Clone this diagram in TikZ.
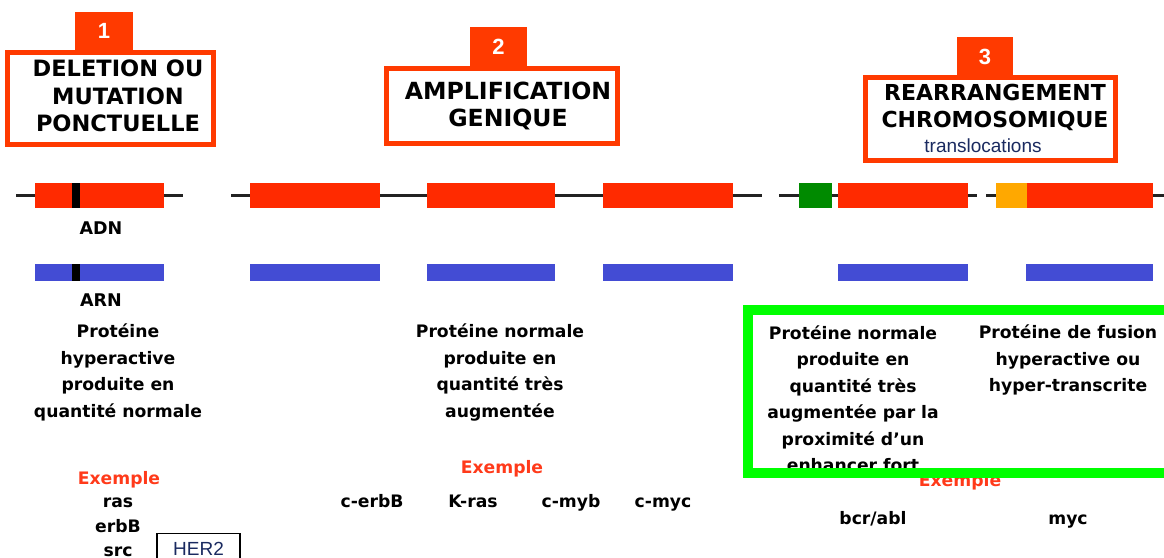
\documentclass[tikz,border=0pt]{standalone}
\usepackage{fontspec}
\setmainfont{DejaVu Sans}
\newfontfamily\arialf{Liberation Sans}
\definecolor{dnared}{HTML}{FF2A00}
\definecolor{rnablue}{HTML}{434CD4}
\definecolor{boxred}{HTML}{FF3A00}
\definecolor{promgreen}{HTML}{008A00}
\definecolor{promorange}{HTML}{FFA800}
\definecolor{hilite}{HTML}{00FF00}
\definecolor{navy}{HTML}{1A2A60}
\definecolor{exred}{HTML}{FF3A1A}
\definecolor{dnaline}{HTML}{222222}
\newcommand\mybody{\fontsize{17.2}{26.5}\selectfont\bfseries}
\begin{document}
\begin{tikzpicture}[x=1pt,y=-1pt,
  exon/.style={fill=dnared, draw=none, inner sep=0pt, minimum height=25pt},
  prom/.style={draw=none, inner sep=0pt, minimum height=25pt},
  rna/.style={fill=rnablue, draw=none, inner sep=0pt, minimum height=17pt},
  mutmark/.style={fill=black, draw=none, inner sep=0pt, minimum width=8pt},
  dna/.style={draw=dnaline, line width=2.2pt},
  headbox/.style={draw=boxred, line width=5pt, fill=white, inner sep=0pt},
  numbox/.style={fill=boxred, draw=none, inner sep=0pt, text=white,
    font=\arialf\bfseries\fontsize{22}{22}\selectfont},
  headtxt/.style={align=center, inner sep=0pt},
  bodytxt/.style={align=center, inner sep=0pt, font=\mybody},
  extxt/.style={inner sep=0pt, font=\mybody, text=exred, text height=12pt, text depth=4pt},
  gene/.style={inner sep=0pt, font=\mybody, text height=12pt, text depth=4pt},
  seqlbl/.style={inner sep=0pt, font=\fontsize{17.5}{17.5}\selectfont\bfseries}
]
\useasboundingbox (0,0) rectangle (1164,557);
\clip (0,0) rectangle (1164,557);

% header boxes
\node[headbox, minimum width=206pt, minimum height=92pt] (b1) at (110.5,98.5) {};
\node[numbox, minimum width=58pt, minimum height=38pt] (n1) at (104,31) {1};
\node[headtxt, font=\fontsize{22.5}{27.5}\selectfont\bfseries] (t1) at (118,96) {DELETION OU\\MUTATION\\PONCTUELLE};

\node[headbox, minimum width=231pt, minimum height=75pt] (b2) at (502,106) {};
\node[numbox, minimum width=57pt, minimum height=40pt] (n2) at (498.5,47) {2};
\node[headtxt, font=\fontsize{23.6}{27.5}\selectfont\bfseries] (t2) at (508,106) {AMPLIFICATION\\GENIQUE};

\node[headbox, minimum width=250pt, minimum height=83pt] (b3) at (990.5,119) {};
\node[numbox, minimum width=56pt, minimum height=40pt] (n3) at (985,57) {3};
\node[headtxt, font=\fontsize{22}{27.5}\selectfont\bfseries] (t3) at (995,107.5) {REARRANGEMENT\\CHROMOSOMIQUE};
\node[inner sep=0pt, text=navy, font=\arialf\fontsize{19}{19}\selectfont] (t3b) at (983,146) {translocations};

% DNA lines
\coordinate (l1a) at (16,195.5);  \coordinate (l1b) at (183,195.5);
\coordinate (l2a) at (231,195.5); \coordinate (l2b) at (762,195.5);
\coordinate (l3a) at (779,195.5); \coordinate (l3b) at (977,195.5);
\coordinate (l4a) at (986,195.5); \coordinate (l4b) at (1170,195.5);
\draw[dna] (l1a) -- (l1b);
\draw[dna] (l2a) -- (l2b);
\draw[dna] (l3a) -- (l3b);
\draw[dna] (l4a) -- (l4b);

% exons
\node[exon, minimum width=129pt] (e1) at (99.5,195.5) {};
\node[mutmark, minimum height=25pt] (m1) at (76,195.5) {};
\node[exon, minimum width=130pt] (e2) at (315,195.5) {};
\node[exon, minimum width=128pt] (e3) at (491,195.5) {};
\node[exon, minimum width=130pt] (e4) at (668,195.5) {};
\node[prom, fill=promgreen, minimum width=33pt] (g1) at (815.5,195.5) {};
\node[exon, minimum width=130pt] (e5) at (903,195.5) {};
\node[prom, fill=promorange, minimum width=31pt] (o1) at (1011.5,195.5) {};
\node[exon, minimum width=126pt] (e6) at (1090,195.5) {};

\node[seqlbl] (adn) at (101,228) {ADN};

% RNA
\node[rna, minimum width=129pt] (r1) at (99.5,272.5) {};
\node[mutmark, minimum height=17pt] (m2) at (76,272.5) {};
\node[rna, minimum width=130pt] (r2) at (315,272.5) {};
\node[rna, minimum width=128pt] (r3) at (491,272.5) {};
\node[rna, minimum width=130pt] (r4) at (668,272.5) {};
\node[rna, minimum width=130pt] (r5) at (903,272.5) {};
\node[rna, minimum width=127pt] (r6) at (1089.5,272.5) {};

\node[seqlbl] (arn) at (101,300) {ARN};

% column 1
\node[bodytxt] (p1) at (118,372.5) {Protéine\\hyperactive\\produite en\\quantité normale};
\node[extxt] (x1) at (119,480) {Exemple};
\node[gene] (g1a) at (118,503) {ras};
\node[gene] (g1b) at (118,528) {erbB};
\node[gene] (g1c) at (118,552) {src};
\node[draw=black, line width=1.3pt, minimum width=83pt, minimum height=40pt, anchor=north,
  inner sep=0pt] (her) at (198.5,532.5) {};
\node[inner sep=0pt, text=navy, font=\arialf\fontsize{19}{19}\selectfont] (hert) at (198.5,549) {HER2};

% column 2
\node[bodytxt] (p2) at (500,372.5) {Protéine normale\\produite en\\quantité très\\augmentée};
\node[extxt] (x2) at (502,469) {Exemple};
\node[gene] (g2a) at (372,503) {c-erbB};
\node[gene] (g2b) at (473,503) {K-ras};
\node[gene] (g2c) at (571,503) {c-myb};
\node[gene] (g2d) at (663,503) {c-myc};

% column 3
\node[bodytxt] (p3) at (853,398.5) {Protéine normale\\produite en\\quantité très\\augmentée par la\\proximité d'un\\enhancer fort};
\node[bodytxt] (p4) at (1068,360) {Protéine de fusion\\hyperactive ou\\hyper-transcrite};
\node[extxt] (x3) at (960,482) {Exemple};
\node[gene] (g3a) at (873,520) {bcr/abl};
\node[gene] (g3b) at (1068,520) {myc};

% highlight frame
\coordinate (hl1) at (747.5,309.5);
\coordinate (hl2) at (1180,473);
\draw[hilite, line width=10pt] (hl1) rectangle (hl2);
\end{tikzpicture}
\end{document}
